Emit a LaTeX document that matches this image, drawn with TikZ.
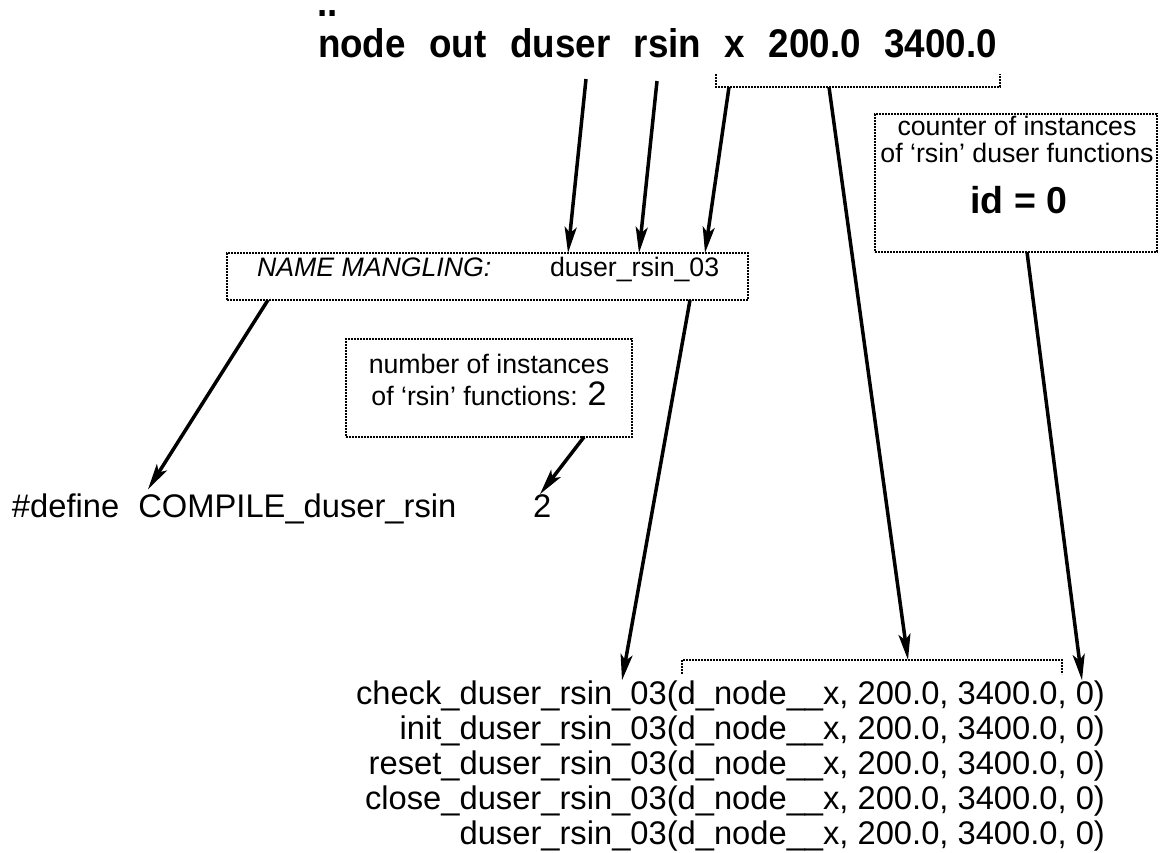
\documentclass[tikz,border=0pt]{standalone}
\usepackage{fontspec}
\setmainfont{Liberation Sans}
\newfontfamily\headfont{Liberation Sans}[FakeStretch=0.92]
\usetikzlibrary{arrows.meta, positioning}
\newcommand*{\wgap}{\hspace{23.5pt}}

\begin{document}
\begin{tikzpicture}[x=1pt, y=-1pt, node distance=35pt, on grid,
      >={Stealth[length=26pt,width=12pt,inset=6pt]},
      every node/.style={inner sep=0pt, outer sep=0pt},
      box/.style={draw, line width=2.5pt, dash pattern=on 2pt off 1pt, anchor=north west},
      brace/.style={line width=2.5pt, dash pattern=on 2pt off 1pt},
      head/.style={font=\headfont\fontsize{40}{42}\selectfont\bfseries, anchor=base west},
      code/.style={font=\fontsize{32.7}{36}\selectfont, anchor=base east},
      note/.style={font=\fontsize{26.7}{27}\selectfont, anchor=base},
      arr/.style={->, line width=3.5pt}]
      \useasboundingbox (0,0) rectangle (1165,852);
      % input line
      \node[head] (dots) at (317,16) {..};
      \node[head] (cmd) at (318,57) {node\wgap out\wgap duser\wgap rsin\wgap x\wgap 200.0\wgap 3400.0};
      \draw[brace] (716,74) |- (1000,87) -- (1000,74);
      % boxes
      \node[box, minimum width=521pt, minimum height=47pt] (b_name) at (227,253) {};
      \node[note, font=\fontsize{26.7}{27}\selectfont\itshape, anchor=base west] (t_mangle) at (257,276) {NAME MANGLING:};
      \node[note, anchor=base west] (t_mname) at (550,276) {duser\_rsin\_03};
      \node[box, minimum width=282pt, minimum height=138pt] (b_count) at (875,114) {};
      \node[note] (t_c0) at (1017,135) {counter of instances};
      \node[note] (t_c1) at (1017,162) {of ‘rsin’ duser functions};
      \node[note, font=\fontsize{37.5}{40}\selectfont\bfseries] (t_id) at (1019,213) {id = 0};
      \node[box, minimum width=286pt, minimum height=98pt] (b_num) at (346,339) {};
      \node[note] (t_n0) at (489,373) {number of instances};
      \node[note] (t_n1) at (489,405) {of ‘rsin’ functions: {\fontsize{34}{34}\selectfont 2}};
      % generated code
      \node[code, anchor=base west] (d_def) at (12,517) {\#define\hspace{10pt} COMPILE\_duser\_rsin};
      \node[code, anchor=base west] (d_two) at (533,517) {2};
      \node[code] (l_0) at (1105,704) {check\_duser\_rsin\_03(d\_node\_\_x, 200.0, 3400.0, 0)};
      \node[code, below=of l_0.base east, anchor=base east] (l_1) {init\_duser\_rsin\_03(d\_node\_\_x, 200.0, 3400.0, 0)};
      \node[code, below=of l_1.base east, anchor=base east] (l_2) {reset\_duser\_rsin\_03(d\_node\_\_x, 200.0, 3400.0, 0)};
      \node[code, below=of l_2.base east, anchor=base east] (l_3) {close\_duser\_rsin\_03(d\_node\_\_x, 200.0, 3400.0, 0)};
      \node[code, below=of l_3.base east, anchor=base east] (l_4) {duser\_rsin\_03(d\_node\_\_x, 200.0, 3400.0, 0)};
      \draw[brace] (682,674) |- (1062,660) -- (1062,674);
      % arrows
      \coordinate (s_0) at (586,79);
      \coordinate (s_1) at (657,81);
      \coordinate (s_2) at (729,87);
      \coordinate (s_3) at (829,87);
      \coordinate (e_3) at (908,660);
      \draw[arr] (s_0) -- ([xshift=341pt]b_name.north west);
      \draw[arr] (s_1) -- ([xshift=412pt]b_name.north west);
      \draw[arr] (s_2) -- ([xshift=478pt]b_name.north west);
      \draw[arr] (s_3) -- (e_3);
      \draw[arr] ([xshift=152pt]b_count.south west) -- ([xshift=-23pt]l_0.north east);
      \draw[arr] ([xshift=41pt]b_name.south west) -- ([xshift=136pt,yshift=4pt]d_def.north west);
      \draw[arr] ([xshift=463pt]b_name.south west) -- ([xshift=-483pt]l_0.north east);
      \draw[arr] ([xshift=238pt]b_num.south west) -- ([xshift=7pt]d_two.north west);
    \end{tikzpicture}
\end{document}
